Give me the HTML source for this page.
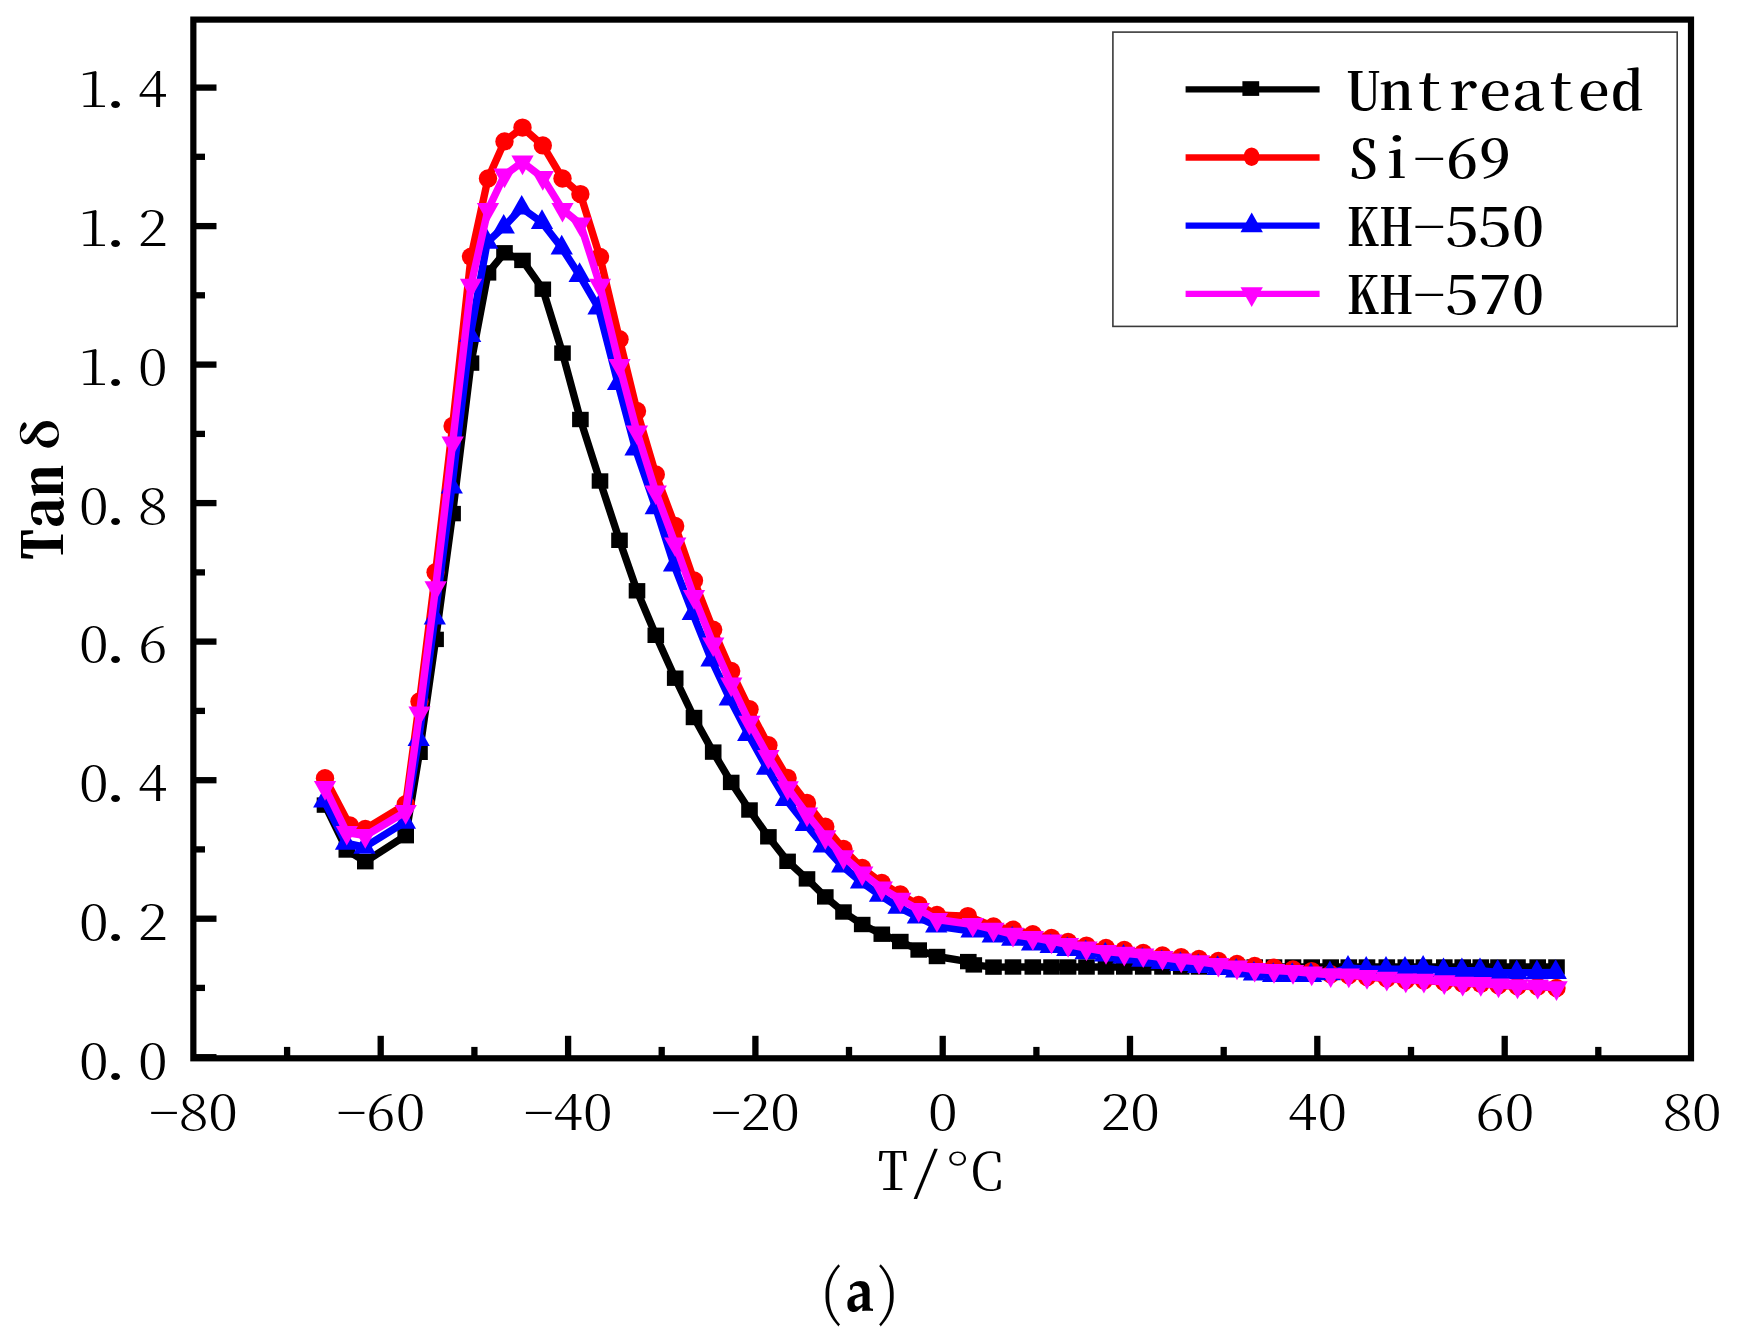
<!DOCTYPE html>
<html lang="en"><head><meta charset="utf-8"><title>Tan delta vs temperature</title>
<style>html,body{margin:0;padding:0;background:#fff}svg{display:block}.m{font-family:"Noto Serif CJK SC","Liberation Serif",serif;font-feature-settings:"hwid";fill:#000}.f{font-family:"Noto Serif CJK SC","Liberation Serif",serif;font-weight:300;font-feature-settings:normal;fill:#000}.t{font-family:"Liberation Serif","Noto Serif CJK SC",serif;font-weight:bold;fill:#000}.p{font-family:"TeX Gyre Pagella","Liberation Serif",serif;fill:#000}</style></head><body>
<svg width="1738" height="1337" viewBox="0 0 1738 1337">
<rect width="1738" height="1337" fill="#fff"/>
<g id="data">
<polyline points="325.0,805.1 346.8,850.0 365.3,861.7 405.7,835.7 419.5,752.3 435.6,639.4 452.6,513.6 471.0,363.1 488.0,272.9 504.5,252.8 522.5,260.4 542.8,289.2 562.5,353.1 580.4,419.5 600.0,481.0 619.5,540.3 637.0,590.8 655.8,635.3 675.2,678.2 694.0,717.5 713.2,752.1 731.2,782.4 749.5,810.0 768.4,836.8 787.6,861.3 807.0,878.9 825.3,896.9 843.5,912.0 862.2,924.5 881.8,934.2 900.3,941.5 918.7,950.0 937.0,956.5 968.3,961.6 973.8,964.9 993.5,967.1 1013.0,967.0 1032.8,967.0 1051.5,967.0 1068.1,967.0 1086.5,967.0 1106.0,967.0 1124.3,967.0 1143.2,967.0 1162.5,967.0 1181.2,967.0 1199.0,967.0 1218.4,967.0 1237.0,967.0 1254.7,967.0 1274.0,967.0 1293.0,967.0 1311.7,967.0 1330.7,967.0 1348.8,967.0 1367.0,967.0 1386.8,967.0 1405.8,967.0 1423.9,967.0 1444.3,967.0 1462.7,967.0 1480.8,967.0 1498.5,967.0 1517.5,967.0 1537.7,967.0 1556.5,967.0" fill="none" stroke="#000" stroke-width="7.4" stroke-linejoin="round" stroke-linecap="butt"/>
<rect x="316.7" y="797.4" width="16.6" height="15.4" fill="#000"/><rect x="338.5" y="842.3" width="16.6" height="15.4" fill="#000"/><rect x="357.0" y="854.0" width="16.6" height="15.4" fill="#000"/><rect x="397.4" y="828.0" width="16.6" height="15.4" fill="#000"/><rect x="411.2" y="744.6" width="16.6" height="15.4" fill="#000"/><rect x="427.3" y="631.7" width="16.6" height="15.4" fill="#000"/><rect x="444.3" y="505.9" width="16.6" height="15.4" fill="#000"/><rect x="462.7" y="355.4" width="16.6" height="15.4" fill="#000"/><rect x="479.7" y="265.2" width="16.6" height="15.4" fill="#000"/><rect x="496.2" y="245.1" width="16.6" height="15.4" fill="#000"/><rect x="514.2" y="252.7" width="16.6" height="15.4" fill="#000"/><rect x="534.5" y="281.5" width="16.6" height="15.4" fill="#000"/><rect x="554.2" y="345.4" width="16.6" height="15.4" fill="#000"/><rect x="572.1" y="411.8" width="16.6" height="15.4" fill="#000"/><rect x="591.7" y="473.3" width="16.6" height="15.4" fill="#000"/><rect x="611.2" y="532.6" width="16.6" height="15.4" fill="#000"/><rect x="628.7" y="583.1" width="16.6" height="15.4" fill="#000"/><rect x="647.5" y="627.6" width="16.6" height="15.4" fill="#000"/><rect x="666.9" y="670.5" width="16.6" height="15.4" fill="#000"/><rect x="685.7" y="709.8" width="16.6" height="15.4" fill="#000"/><rect x="704.9" y="744.4" width="16.6" height="15.4" fill="#000"/><rect x="722.9" y="774.7" width="16.6" height="15.4" fill="#000"/><rect x="741.2" y="802.3" width="16.6" height="15.4" fill="#000"/><rect x="760.1" y="829.1" width="16.6" height="15.4" fill="#000"/><rect x="779.3" y="853.6" width="16.6" height="15.4" fill="#000"/><rect x="798.7" y="871.2" width="16.6" height="15.4" fill="#000"/><rect x="817.0" y="889.2" width="16.6" height="15.4" fill="#000"/><rect x="835.2" y="904.3" width="16.6" height="15.4" fill="#000"/><rect x="853.9" y="916.8" width="16.6" height="15.4" fill="#000"/><rect x="873.5" y="926.5" width="16.6" height="15.4" fill="#000"/><rect x="892.0" y="933.8" width="16.6" height="15.4" fill="#000"/><rect x="910.4" y="942.3" width="16.6" height="15.4" fill="#000"/><rect x="928.7" y="948.8" width="16.6" height="15.4" fill="#000"/><rect x="960.0" y="953.9" width="16.6" height="15.4" fill="#000"/><rect x="965.5" y="957.2" width="16.6" height="15.4" fill="#000"/><rect x="985.2" y="959.4" width="16.6" height="15.4" fill="#000"/><rect x="1004.7" y="959.3" width="16.6" height="15.4" fill="#000"/><rect x="1024.5" y="959.3" width="16.6" height="15.4" fill="#000"/><rect x="1043.2" y="959.3" width="16.6" height="15.4" fill="#000"/><rect x="1059.8" y="959.3" width="16.6" height="15.4" fill="#000"/><rect x="1078.2" y="959.3" width="16.6" height="15.4" fill="#000"/><rect x="1097.7" y="959.3" width="16.6" height="15.4" fill="#000"/><rect x="1116.0" y="959.3" width="16.6" height="15.4" fill="#000"/><rect x="1134.9" y="959.3" width="16.6" height="15.4" fill="#000"/><rect x="1154.2" y="959.3" width="16.6" height="15.4" fill="#000"/><rect x="1172.9" y="959.3" width="16.6" height="15.4" fill="#000"/><rect x="1190.7" y="959.3" width="16.6" height="15.4" fill="#000"/><rect x="1210.1" y="959.3" width="16.6" height="15.4" fill="#000"/><rect x="1228.7" y="959.3" width="16.6" height="15.4" fill="#000"/><rect x="1246.4" y="959.3" width="16.6" height="15.4" fill="#000"/><rect x="1265.7" y="959.3" width="16.6" height="15.4" fill="#000"/><rect x="1284.7" y="959.3" width="16.6" height="15.4" fill="#000"/><rect x="1303.4" y="959.3" width="16.6" height="15.4" fill="#000"/><rect x="1322.4" y="959.3" width="16.6" height="15.4" fill="#000"/><rect x="1340.5" y="959.3" width="16.6" height="15.4" fill="#000"/><rect x="1358.7" y="959.3" width="16.6" height="15.4" fill="#000"/><rect x="1378.5" y="959.3" width="16.6" height="15.4" fill="#000"/><rect x="1397.5" y="959.3" width="16.6" height="15.4" fill="#000"/><rect x="1415.6" y="959.3" width="16.6" height="15.4" fill="#000"/><rect x="1436.0" y="959.3" width="16.6" height="15.4" fill="#000"/><rect x="1454.4" y="959.3" width="16.6" height="15.4" fill="#000"/><rect x="1472.5" y="959.3" width="16.6" height="15.4" fill="#000"/><rect x="1490.2" y="959.3" width="16.6" height="15.4" fill="#000"/><rect x="1509.2" y="959.3" width="16.6" height="15.4" fill="#000"/><rect x="1529.4" y="959.3" width="16.6" height="15.4" fill="#000"/><rect x="1548.2" y="959.3" width="16.6" height="15.4" fill="#000"/>
<polyline points="325.0,778.3 349.8,825.4 365.3,829.0 405.7,804.3 419.5,701.5 435.6,572.3 452.6,426.0 471.0,256.8 488.0,178.5 504.5,141.4 522.5,127.6 542.8,145.4 562.5,178.5 580.4,194.1 600.0,257.0 619.5,339.3 637.0,411.0 655.8,474.5 675.2,526.0 694.0,580.4 713.2,629.7 731.2,671.0 749.5,709.2 768.4,745.3 787.6,777.9 807.0,803.0 825.3,826.8 843.5,849.0 862.2,868.0 881.8,883.0 900.3,894.5 918.7,905.0 937.0,914.9 967.9,916.1 993.5,926.4 1013.0,929.7 1032.8,934.2 1051.5,938.0 1068.1,942.0 1086.5,945.6 1106.0,948.0 1124.3,950.0 1143.2,952.9 1162.5,955.5 1181.2,957.3 1199.0,959.0 1218.4,961.0 1237.0,964.0 1254.7,966.0 1274.0,967.6 1293.0,969.4 1311.7,971.1 1330.7,974.3 1348.8,975.3 1367.0,977.0 1386.8,978.6 1405.8,980.2 1423.9,980.6 1444.3,982.0 1462.7,983.4 1480.8,983.8 1498.5,985.2 1517.5,986.3 1537.7,986.6 1556.5,988.0" fill="none" stroke="#f00" stroke-width="7.4" stroke-linejoin="round" stroke-linecap="butt"/>
<ellipse cx="325.0" cy="778.3" rx="9.2" ry="9.2" fill="#f00"/><ellipse cx="349.8" cy="825.4" rx="9.2" ry="9.2" fill="#f00"/><ellipse cx="365.3" cy="829.0" rx="9.2" ry="9.2" fill="#f00"/><ellipse cx="405.7" cy="804.3" rx="9.2" ry="9.2" fill="#f00"/><ellipse cx="419.5" cy="701.5" rx="9.2" ry="9.2" fill="#f00"/><ellipse cx="435.6" cy="572.3" rx="9.2" ry="9.2" fill="#f00"/><ellipse cx="452.6" cy="426.0" rx="9.2" ry="9.2" fill="#f00"/><ellipse cx="471.0" cy="256.8" rx="9.2" ry="9.2" fill="#f00"/><ellipse cx="488.0" cy="178.5" rx="9.2" ry="9.2" fill="#f00"/><ellipse cx="504.5" cy="141.4" rx="9.2" ry="9.2" fill="#f00"/><ellipse cx="522.5" cy="127.6" rx="9.2" ry="9.2" fill="#f00"/><ellipse cx="542.8" cy="145.4" rx="9.2" ry="9.2" fill="#f00"/><ellipse cx="562.5" cy="178.5" rx="9.2" ry="9.2" fill="#f00"/><ellipse cx="580.4" cy="194.1" rx="9.2" ry="9.2" fill="#f00"/><ellipse cx="600.0" cy="257.0" rx="9.2" ry="9.2" fill="#f00"/><ellipse cx="619.5" cy="339.3" rx="9.2" ry="9.2" fill="#f00"/><ellipse cx="637.0" cy="411.0" rx="9.2" ry="9.2" fill="#f00"/><ellipse cx="655.8" cy="474.5" rx="9.2" ry="9.2" fill="#f00"/><ellipse cx="675.2" cy="526.0" rx="9.2" ry="9.2" fill="#f00"/><ellipse cx="694.0" cy="580.4" rx="9.2" ry="9.2" fill="#f00"/><ellipse cx="713.2" cy="629.7" rx="9.2" ry="9.2" fill="#f00"/><ellipse cx="731.2" cy="671.0" rx="9.2" ry="9.2" fill="#f00"/><ellipse cx="749.5" cy="709.2" rx="9.2" ry="9.2" fill="#f00"/><ellipse cx="768.4" cy="745.3" rx="9.2" ry="9.2" fill="#f00"/><ellipse cx="787.6" cy="777.9" rx="9.2" ry="9.2" fill="#f00"/><ellipse cx="807.0" cy="803.0" rx="9.2" ry="9.2" fill="#f00"/><ellipse cx="825.3" cy="826.8" rx="9.2" ry="9.2" fill="#f00"/><ellipse cx="843.5" cy="849.0" rx="9.2" ry="9.2" fill="#f00"/><ellipse cx="862.2" cy="868.0" rx="9.2" ry="9.2" fill="#f00"/><ellipse cx="881.8" cy="883.0" rx="9.2" ry="9.2" fill="#f00"/><ellipse cx="900.3" cy="894.5" rx="9.2" ry="9.2" fill="#f00"/><ellipse cx="918.7" cy="905.0" rx="9.2" ry="9.2" fill="#f00"/><ellipse cx="937.0" cy="914.9" rx="9.2" ry="9.2" fill="#f00"/><ellipse cx="967.9" cy="916.1" rx="9.2" ry="9.2" fill="#f00"/><ellipse cx="993.5" cy="926.4" rx="9.2" ry="9.2" fill="#f00"/><ellipse cx="1013.0" cy="929.7" rx="9.2" ry="9.2" fill="#f00"/><ellipse cx="1032.8" cy="934.2" rx="9.2" ry="9.2" fill="#f00"/><ellipse cx="1051.5" cy="938.0" rx="9.2" ry="9.2" fill="#f00"/><ellipse cx="1068.1" cy="942.0" rx="9.2" ry="9.2" fill="#f00"/><ellipse cx="1086.5" cy="945.6" rx="9.2" ry="9.2" fill="#f00"/><ellipse cx="1106.0" cy="948.0" rx="9.2" ry="9.2" fill="#f00"/><ellipse cx="1124.3" cy="950.0" rx="9.2" ry="9.2" fill="#f00"/><ellipse cx="1143.2" cy="952.9" rx="9.2" ry="9.2" fill="#f00"/><ellipse cx="1162.5" cy="955.5" rx="9.2" ry="9.2" fill="#f00"/><ellipse cx="1181.2" cy="957.3" rx="9.2" ry="9.2" fill="#f00"/><ellipse cx="1199.0" cy="959.0" rx="9.2" ry="9.2" fill="#f00"/><ellipse cx="1218.4" cy="961.0" rx="9.2" ry="9.2" fill="#f00"/><ellipse cx="1237.0" cy="964.0" rx="9.2" ry="9.2" fill="#f00"/><ellipse cx="1254.7" cy="966.0" rx="9.2" ry="9.2" fill="#f00"/><ellipse cx="1274.0" cy="967.6" rx="9.2" ry="9.2" fill="#f00"/><ellipse cx="1293.0" cy="969.4" rx="9.2" ry="9.2" fill="#f00"/><ellipse cx="1311.7" cy="971.1" rx="9.2" ry="9.2" fill="#f00"/><ellipse cx="1330.7" cy="974.3" rx="9.2" ry="9.2" fill="#f00"/><ellipse cx="1348.8" cy="975.3" rx="9.2" ry="9.2" fill="#f00"/><ellipse cx="1367.0" cy="977.0" rx="9.2" ry="9.2" fill="#f00"/><ellipse cx="1386.8" cy="978.6" rx="9.2" ry="9.2" fill="#f00"/><ellipse cx="1405.8" cy="980.2" rx="9.2" ry="9.2" fill="#f00"/><ellipse cx="1423.9" cy="980.6" rx="9.2" ry="9.2" fill="#f00"/><ellipse cx="1444.3" cy="982.0" rx="9.2" ry="9.2" fill="#f00"/><ellipse cx="1462.7" cy="983.4" rx="9.2" ry="9.2" fill="#f00"/><ellipse cx="1480.8" cy="983.8" rx="9.2" ry="9.2" fill="#f00"/><ellipse cx="1498.5" cy="985.2" rx="9.2" ry="9.2" fill="#f00"/><ellipse cx="1517.5" cy="986.3" rx="9.2" ry="9.2" fill="#f00"/><ellipse cx="1537.7" cy="986.6" rx="9.2" ry="9.2" fill="#f00"/><ellipse cx="1556.5" cy="988.0" rx="9.2" ry="9.2" fill="#f00"/>
<polyline points="324.2,801.0 346.0,843.1 364.5,847.2 404.9,822.1 418.7,739.4 434.8,617.8 451.8,487.0 470.2,335.5 487.2,242.2 503.7,227.0 521.7,208.0 542.0,222.4 561.7,247.8 579.6,275.4 598.5,307.8 618.0,383.5 635.5,449.0 655.7,507.6 674.0,565.0 692.8,613.5 711.5,660.0 729.8,698.8 748.2,734.3 767.0,768.1 786.0,799.5 805.8,824.5 823.6,845.8 842.2,865.9 861.0,881.8 880.0,895.2 898.5,907.2 917.9,917.0 936.2,926.0 971.5,931.0 992.7,935.8 1012.2,939.2 1032.0,944.0 1050.7,946.5 1067.3,949.5 1085.7,952.6 1105.2,954.8 1123.5,957.0 1142.4,960.2 1161.7,962.5 1180.4,964.5 1198.2,966.5 1217.6,968.3 1236.2,971.0 1253.9,974.0 1273.2,975.4 1292.2,975.4 1310.9,975.4 1329.9,973.6 1348.0,968.0 1366.2,969.2 1386.0,969.2 1405.0,969.2 1423.1,968.2 1443.5,970.6 1461.9,970.6 1480.0,970.6 1497.7,972.4 1516.7,972.6 1536.9,972.6 1555.7,972.4" fill="none" stroke="#00f" stroke-width="7.4" stroke-linejoin="round" stroke-linecap="butt"/>
<polygon points="324.2,787.9 313.1,807.6 335.3,807.6" fill="#00f"/><polygon points="346.0,830.0 334.9,849.7 357.1,849.7" fill="#00f"/><polygon points="364.5,834.1 353.4,853.8 375.6,853.8" fill="#00f"/><polygon points="404.9,809.0 393.8,828.7 416.0,828.7" fill="#00f"/><polygon points="418.7,726.3 407.6,746.0 429.8,746.0" fill="#00f"/><polygon points="434.8,604.7 423.7,624.4 445.9,624.4" fill="#00f"/><polygon points="451.8,473.9 440.7,493.6 462.9,493.6" fill="#00f"/><polygon points="470.2,322.4 459.1,342.1 481.3,342.1" fill="#00f"/><polygon points="487.2,229.1 476.1,248.8 498.3,248.8" fill="#00f"/><polygon points="503.7,213.9 492.6,233.6 514.9,233.6" fill="#00f"/><polygon points="521.7,194.9 510.6,214.6 532.9,214.6" fill="#00f"/><polygon points="542.0,209.3 530.9,229.0 553.1,229.0" fill="#00f"/><polygon points="561.7,234.7 550.6,254.4 572.9,254.4" fill="#00f"/><polygon points="579.6,262.3 568.5,282.0 590.8,282.0" fill="#00f"/><polygon points="598.5,294.7 587.4,314.4 609.6,314.4" fill="#00f"/><polygon points="618.0,370.4 606.9,390.1 629.1,390.1" fill="#00f"/><polygon points="635.5,435.9 624.4,455.6 646.6,455.6" fill="#00f"/><polygon points="655.7,494.5 644.6,514.2 666.9,514.2" fill="#00f"/><polygon points="674.0,551.9 662.9,571.6 685.1,571.6" fill="#00f"/><polygon points="692.8,600.4 681.6,620.1 703.9,620.1" fill="#00f"/><polygon points="711.5,646.9 700.4,666.6 722.6,666.6" fill="#00f"/><polygon points="729.8,685.7 718.6,705.4 740.9,705.4" fill="#00f"/><polygon points="748.2,721.2 737.1,740.9 759.4,740.9" fill="#00f"/><polygon points="767.0,755.0 755.9,774.7 778.1,774.7" fill="#00f"/><polygon points="786.0,786.4 774.9,806.1 797.1,806.1" fill="#00f"/><polygon points="805.8,811.4 794.6,831.1 816.9,831.1" fill="#00f"/><polygon points="823.6,832.7 812.5,852.4 834.8,852.4" fill="#00f"/><polygon points="842.2,852.8 831.1,872.5 853.4,872.5" fill="#00f"/><polygon points="861.0,868.7 849.9,888.4 872.1,888.4" fill="#00f"/><polygon points="880.0,882.1 868.9,901.8 891.1,901.8" fill="#00f"/><polygon points="898.5,894.1 887.4,913.8 909.6,913.8" fill="#00f"/><polygon points="917.9,903.9 906.8,923.6 929.1,923.6" fill="#00f"/><polygon points="936.2,912.9 925.1,932.6 947.4,932.6" fill="#00f"/><polygon points="971.5,917.9 960.4,937.6 982.6,937.6" fill="#00f"/><polygon points="992.7,922.7 981.6,942.4 1003.9,942.4" fill="#00f"/><polygon points="1012.2,926.1 1001.1,945.8 1023.4,945.8" fill="#00f"/><polygon points="1032.0,930.9 1020.9,950.6 1043.2,950.6" fill="#00f"/><polygon points="1050.7,933.4 1039.5,953.1 1061.9,953.1" fill="#00f"/><polygon points="1067.3,936.4 1056.1,956.1 1078.5,956.1" fill="#00f"/><polygon points="1085.7,939.5 1074.5,959.2 1096.9,959.2" fill="#00f"/><polygon points="1105.2,941.7 1094.0,961.4 1116.4,961.4" fill="#00f"/><polygon points="1123.5,943.9 1112.3,963.6 1134.7,963.6" fill="#00f"/><polygon points="1142.4,947.1 1131.2,966.8 1153.6,966.8" fill="#00f"/><polygon points="1161.7,949.4 1150.5,969.1 1172.9,969.1" fill="#00f"/><polygon points="1180.4,951.4 1169.2,971.1 1191.6,971.1" fill="#00f"/><polygon points="1198.2,953.4 1187.0,973.1 1209.4,973.1" fill="#00f"/><polygon points="1217.6,955.2 1206.5,974.9 1228.8,974.9" fill="#00f"/><polygon points="1236.2,957.9 1225.0,977.6 1247.4,977.6" fill="#00f"/><polygon points="1253.9,960.9 1242.8,980.6 1265.1,980.6" fill="#00f"/><polygon points="1273.2,962.3 1262.0,982.0 1284.4,982.0" fill="#00f"/><polygon points="1292.2,962.3 1281.0,982.0 1303.4,982.0" fill="#00f"/><polygon points="1310.9,962.3 1299.8,982.0 1322.1,982.0" fill="#00f"/><polygon points="1329.9,960.5 1318.8,980.2 1341.1,980.2" fill="#00f"/><polygon points="1348.0,954.9 1336.8,974.6 1359.2,974.6" fill="#00f"/><polygon points="1366.2,956.1 1355.0,975.8 1377.4,975.8" fill="#00f"/><polygon points="1386.0,956.1 1374.8,975.8 1397.2,975.8" fill="#00f"/><polygon points="1405.0,956.1 1393.8,975.8 1416.2,975.8" fill="#00f"/><polygon points="1423.1,955.1 1412.0,974.8 1434.3,974.8" fill="#00f"/><polygon points="1443.5,957.5 1432.3,977.2 1454.7,977.2" fill="#00f"/><polygon points="1461.9,957.5 1450.8,977.2 1473.1,977.2" fill="#00f"/><polygon points="1480.0,957.5 1468.8,977.2 1491.2,977.2" fill="#00f"/><polygon points="1497.7,959.3 1486.5,979.0 1508.9,979.0" fill="#00f"/><polygon points="1516.7,959.5 1505.5,979.2 1527.9,979.2" fill="#00f"/><polygon points="1536.9,959.5 1525.8,979.2 1548.1,979.2" fill="#00f"/><polygon points="1555.7,959.3 1544.5,979.0 1566.9,979.0" fill="#00f"/>
<polyline points="325.0,787.6 346.8,832.5 365.3,835.7 405.7,811.7 419.5,713.0 435.6,587.8 452.6,443.0 471.0,285.4 488.0,209.6 504.5,175.2 522.5,162.1 542.8,177.7 562.5,209.5 580.4,224.0 600.0,285.4 619.5,365.6 637.0,432.0 655.8,492.0 675.2,544.0 694.0,596.7 713.2,644.0 731.2,684.2 749.5,722.4 768.4,756.6 787.6,787.9 807.0,814.2 825.3,836.8 843.5,856.8 862.2,873.1 881.8,888.1 900.3,899.4 918.7,909.6 937.0,919.5 972.8,924.5 993.5,929.4 1013.0,934.4 1032.8,937.6 1051.5,941.1 1068.1,944.6 1086.5,948.1 1106.0,951.6 1124.3,953.3 1143.2,955.0 1162.5,957.6 1181.2,960.2 1199.0,961.9 1218.4,964.5 1237.0,967.1 1254.7,969.5 1274.0,970.6 1293.0,971.6 1311.7,973.2 1330.7,974.9 1348.8,975.2 1367.0,976.6 1386.8,978.4 1405.8,980.1 1423.9,980.4 1444.3,981.8 1462.7,983.3 1480.8,983.6 1498.5,985.1 1517.5,986.1 1537.7,986.3 1556.5,987.9" fill="none" stroke="#f0f" stroke-width="7.4" stroke-linejoin="round" stroke-linecap="butt"/>
<polygon points="325.0,800.7 313.9,781.0 336.1,781.0" fill="#f0f"/><polygon points="346.8,845.6 335.7,825.9 357.9,825.9" fill="#f0f"/><polygon points="365.3,848.8 354.2,829.1 376.4,829.1" fill="#f0f"/><polygon points="405.7,824.8 394.6,805.1 416.8,805.1" fill="#f0f"/><polygon points="419.5,726.1 408.4,706.4 430.6,706.4" fill="#f0f"/><polygon points="435.6,600.9 424.5,581.2 446.8,581.2" fill="#f0f"/><polygon points="452.6,456.1 441.5,436.4 463.8,436.4" fill="#f0f"/><polygon points="471.0,298.5 459.9,278.8 482.1,278.8" fill="#f0f"/><polygon points="488.0,222.7 476.9,203.0 499.1,203.0" fill="#f0f"/><polygon points="504.5,188.3 493.4,168.6 515.6,168.6" fill="#f0f"/><polygon points="522.5,175.2 511.4,155.5 533.6,155.5" fill="#f0f"/><polygon points="542.8,190.8 531.6,171.1 553.9,171.1" fill="#f0f"/><polygon points="562.5,222.6 551.4,202.9 573.6,202.9" fill="#f0f"/><polygon points="580.4,237.1 569.2,217.4 591.5,217.4" fill="#f0f"/><polygon points="600.0,298.5 588.9,278.8 611.1,278.8" fill="#f0f"/><polygon points="619.5,378.7 608.4,359.0 630.6,359.0" fill="#f0f"/><polygon points="637.0,445.1 625.9,425.4 648.1,425.4" fill="#f0f"/><polygon points="655.8,505.1 644.6,485.4 666.9,485.4" fill="#f0f"/><polygon points="675.2,557.1 664.1,537.4 686.4,537.4" fill="#f0f"/><polygon points="694.0,609.8 682.9,590.1 705.1,590.1" fill="#f0f"/><polygon points="713.2,657.1 702.1,637.4 724.4,637.4" fill="#f0f"/><polygon points="731.2,697.3 720.1,677.6 742.4,677.6" fill="#f0f"/><polygon points="749.5,735.5 738.4,715.8 760.6,715.8" fill="#f0f"/><polygon points="768.4,769.7 757.2,750.0 779.5,750.0" fill="#f0f"/><polygon points="787.6,801.0 776.5,781.3 798.8,781.3" fill="#f0f"/><polygon points="807.0,827.3 795.9,807.6 818.1,807.6" fill="#f0f"/><polygon points="825.3,849.9 814.1,830.2 836.4,830.2" fill="#f0f"/><polygon points="843.5,869.9 832.4,850.2 854.6,850.2" fill="#f0f"/><polygon points="862.2,886.2 851.1,866.5 873.4,866.5" fill="#f0f"/><polygon points="881.8,901.2 870.6,881.5 892.9,881.5" fill="#f0f"/><polygon points="900.3,912.5 889.1,892.8 911.4,892.8" fill="#f0f"/><polygon points="918.7,922.7 907.6,903.0 929.9,903.0" fill="#f0f"/><polygon points="937.0,932.6 925.9,912.9 948.1,912.9" fill="#f0f"/><polygon points="972.8,937.6 961.6,917.9 983.9,917.9" fill="#f0f"/><polygon points="993.5,942.5 982.4,922.8 1004.6,922.8" fill="#f0f"/><polygon points="1013.0,947.5 1001.9,927.8 1024.2,927.8" fill="#f0f"/><polygon points="1032.8,950.7 1021.6,931.0 1044.0,931.0" fill="#f0f"/><polygon points="1051.5,954.2 1040.3,934.5 1062.7,934.5" fill="#f0f"/><polygon points="1068.1,957.7 1056.9,938.0 1079.2,938.0" fill="#f0f"/><polygon points="1086.5,961.2 1075.3,941.5 1097.7,941.5" fill="#f0f"/><polygon points="1106.0,964.7 1094.8,945.0 1117.2,945.0" fill="#f0f"/><polygon points="1124.3,966.4 1113.1,946.7 1135.5,946.7" fill="#f0f"/><polygon points="1143.2,968.1 1132.0,948.4 1154.4,948.4" fill="#f0f"/><polygon points="1162.5,970.7 1151.3,951.0 1173.7,951.0" fill="#f0f"/><polygon points="1181.2,973.3 1170.0,953.6 1192.4,953.6" fill="#f0f"/><polygon points="1199.0,975.0 1187.8,955.3 1210.2,955.3" fill="#f0f"/><polygon points="1218.4,977.6 1207.2,957.9 1229.6,957.9" fill="#f0f"/><polygon points="1237.0,980.2 1225.8,960.5 1248.2,960.5" fill="#f0f"/><polygon points="1254.7,982.6 1243.5,962.9 1265.9,962.9" fill="#f0f"/><polygon points="1274.0,983.7 1262.8,964.0 1285.2,964.0" fill="#f0f"/><polygon points="1293.0,984.7 1281.8,965.0 1304.2,965.0" fill="#f0f"/><polygon points="1311.7,986.3 1300.5,966.6 1322.9,966.6" fill="#f0f"/><polygon points="1330.7,988.0 1319.5,968.3 1341.9,968.3" fill="#f0f"/><polygon points="1348.8,988.3 1337.6,968.6 1360.0,968.6" fill="#f0f"/><polygon points="1367.0,989.7 1355.8,970.0 1378.2,970.0" fill="#f0f"/><polygon points="1386.8,991.5 1375.6,971.8 1398.0,971.8" fill="#f0f"/><polygon points="1405.8,993.2 1394.6,973.5 1417.0,973.5" fill="#f0f"/><polygon points="1423.9,993.5 1412.8,973.8 1435.1,973.8" fill="#f0f"/><polygon points="1444.3,994.9 1433.1,975.2 1455.5,975.2" fill="#f0f"/><polygon points="1462.7,996.4 1451.5,976.7 1473.9,976.7" fill="#f0f"/><polygon points="1480.8,996.7 1469.6,977.0 1492.0,977.0" fill="#f0f"/><polygon points="1498.5,998.2 1487.3,978.5 1509.7,978.5" fill="#f0f"/><polygon points="1517.5,999.2 1506.3,979.5 1528.7,979.5" fill="#f0f"/><polygon points="1537.7,999.4 1526.5,979.7 1548.9,979.7" fill="#f0f"/><polygon points="1556.5,1001.0 1545.3,981.3 1567.7,981.3" fill="#f0f"/>
</g>
<g id="axes" stroke="#000" stroke-width="6.2" fill="none" stroke-linecap="butt">
<rect x="193.35" y="19.60" width="1497.65" height="1038.70"/>
<line x1="193.3" y1="1057.2" x2="216.5" y2="1057.2" stroke-width="6.3"/>
<line x1="193.3" y1="987.9" x2="205.0" y2="987.9" stroke-width="6.3"/>
<line x1="193.3" y1="918.7" x2="216.5" y2="918.7" stroke-width="6.3"/>
<line x1="193.3" y1="849.4" x2="205.0" y2="849.4" stroke-width="6.3"/>
<line x1="193.3" y1="780.2" x2="216.5" y2="780.2" stroke-width="6.3"/>
<line x1="193.3" y1="710.9" x2="205.0" y2="710.9" stroke-width="6.3"/>
<line x1="193.3" y1="641.6" x2="216.5" y2="641.6" stroke-width="6.3"/>
<line x1="193.3" y1="572.4" x2="205.0" y2="572.4" stroke-width="6.3"/>
<line x1="193.3" y1="503.1" x2="216.5" y2="503.1" stroke-width="6.3"/>
<line x1="193.3" y1="433.9" x2="205.0" y2="433.9" stroke-width="6.3"/>
<line x1="193.3" y1="364.6" x2="216.5" y2="364.6" stroke-width="6.3"/>
<line x1="193.3" y1="295.3" x2="205.0" y2="295.3" stroke-width="6.3"/>
<line x1="193.3" y1="226.1" x2="216.5" y2="226.1" stroke-width="6.3"/>
<line x1="193.3" y1="156.8" x2="205.0" y2="156.8" stroke-width="6.3"/>
<line x1="193.3" y1="87.6" x2="216.5" y2="87.6" stroke-width="6.3"/>
<line x1="287.1" y1="1058.3" x2="287.1" y2="1046.9" stroke-width="6.3"/>
<line x1="380.7" y1="1058.3" x2="380.7" y2="1035.8" stroke-width="6.3"/>
<line x1="474.4" y1="1058.3" x2="474.4" y2="1046.9" stroke-width="6.3"/>
<line x1="568.1" y1="1058.3" x2="568.1" y2="1035.8" stroke-width="6.3"/>
<line x1="661.7" y1="1058.3" x2="661.7" y2="1046.9" stroke-width="6.3"/>
<line x1="755.4" y1="1058.3" x2="755.4" y2="1035.8" stroke-width="6.3"/>
<line x1="849.0" y1="1058.3" x2="849.0" y2="1046.9" stroke-width="6.3"/>
<line x1="942.7" y1="1058.3" x2="942.7" y2="1035.8" stroke-width="6.3"/>
<line x1="1036.4" y1="1058.3" x2="1036.4" y2="1046.9" stroke-width="6.3"/>
<line x1="1130.0" y1="1058.3" x2="1130.0" y2="1035.8" stroke-width="6.3"/>
<line x1="1223.7" y1="1058.3" x2="1223.7" y2="1046.9" stroke-width="6.3"/>
<line x1="1317.3" y1="1058.3" x2="1317.3" y2="1035.8" stroke-width="6.3"/>
<line x1="1411.0" y1="1058.3" x2="1411.0" y2="1046.9" stroke-width="6.3"/>
<line x1="1504.7" y1="1058.3" x2="1504.7" y2="1035.8" stroke-width="6.3"/>
<line x1="1598.3" y1="1058.3" x2="1598.3" y2="1046.9" stroke-width="6.3"/>
</g>
<text class="m" font-weight="300" font-size="47.4" transform="translate(79.10,1078.50) scale(1.270,1)" y="0"><tspan x="-0.24">0</tspan><tspan x="11.56" font-size="68.7">.</tspan><tspan x="46.22">0</tspan></text>
<text class="m" font-weight="300" font-size="47.4" transform="translate(79.10,939.78) scale(1.270,1)" y="0"><tspan x="-0.24">0</tspan><tspan x="11.56" font-size="68.7">.</tspan><tspan x="46.22">2</tspan></text>
<text class="m" font-weight="300" font-size="47.4" transform="translate(79.10,801.06) scale(1.270,1)" y="0"><tspan x="-0.24">0</tspan><tspan x="11.56" font-size="68.7">.</tspan><tspan x="46.22">4</tspan></text>
<text class="m" font-weight="300" font-size="47.4" transform="translate(79.10,662.34) scale(1.270,1)" y="0"><tspan x="-0.24">0</tspan><tspan x="11.56" font-size="68.7">.</tspan><tspan x="46.22">6</tspan></text>
<text class="m" font-weight="300" font-size="47.4" transform="translate(79.10,523.62) scale(1.270,1)" y="0"><tspan x="-0.24">0</tspan><tspan x="11.56" font-size="68.7">.</tspan><tspan x="46.22">8</tspan></text>
<text class="m" font-weight="300" font-size="47.4" transform="translate(79.10,384.90) scale(1.270,1)" y="0"><tspan x="-0.24">1</tspan><tspan x="11.56" font-size="68.7">.</tspan><tspan x="46.22">0</tspan></text>
<text class="m" font-weight="300" font-size="47.4" transform="translate(79.10,246.18) scale(1.270,1)" y="0"><tspan x="-0.24">1</tspan><tspan x="11.56" font-size="68.7">.</tspan><tspan x="46.22">2</tspan></text>
<text class="m" font-weight="300" font-size="47.4" transform="translate(79.10,107.46) scale(1.270,1)" y="0"><tspan x="-0.24">1</tspan><tspan x="11.56" font-size="68.7">.</tspan><tspan x="46.22">4</tspan></text>
<text class="m" font-weight="300" font-size="47.4" transform="translate(149.37,1130.40) scale(1.270,1)" x="-0.24 22.99 46.22" y="0">-80</text>
<text class="m" font-weight="300" font-size="47.4" transform="translate(336.69,1130.40) scale(1.270,1)" x="-0.24 22.99 46.22" y="0">-60</text>
<text class="m" font-weight="300" font-size="47.4" transform="translate(524.01,1130.40) scale(1.270,1)" x="-0.24 22.99 46.22" y="0">-40</text>
<text class="m" font-weight="300" font-size="47.4" transform="translate(711.33,1130.40) scale(1.270,1)" x="-0.24 22.99 46.22" y="0">-20</text>
<text class="m" font-weight="300" font-size="47.4" transform="translate(928.15,1130.40) scale(1.270,1)" x="-0.24" y="0">0</text>
<text class="m" font-weight="300" font-size="47.4" transform="translate(1100.72,1130.40) scale(1.270,1)" x="-0.24 22.99" y="0">20</text>
<text class="m" font-weight="300" font-size="47.4" transform="translate(1288.04,1130.40) scale(1.270,1)" x="-0.24 22.99" y="0">40</text>
<text class="m" font-weight="300" font-size="47.4" transform="translate(1475.36,1130.40) scale(1.270,1)" x="-0.24 22.99" y="0">60</text>
<text class="m" font-weight="300" font-size="47.4" transform="translate(1662.68,1130.40) scale(1.270,1)" x="-0.24 22.99" y="0">80</text>
<text class="m" font-weight="300" font-size="52.1" transform="translate(876.40,1189.60) scale(1.250,1)" y="0"><tspan x="0.13 26.45">T/</tspan><tspan class="f" font-size="50" x="54.56">℃</tspan></text>
<text class="m" font-weight="700" font-size="56.2" transform="translate(62.6,560.2) rotate(-90) scale(1.110,1)" y="0"><tspan x="0.23 28.79 57.35 85.90">Tan </tspan><tspan class="f" style="font-weight:700" font-size="47" x="99.64" dy="-4.5">δ</tspan></text>
<text class="p" font-size="63" transform="translate(818.3,1311) scale(0.93,1)" x="0" y="0"><tspan>(</tspan><tspan font-weight="bold">a</tspan><tspan>)</tspan></text>
<g id="legend">
<rect x="1112.9" y="32.1" width="564.3" height="294.3" fill="#fff" stroke="#3a3a3a" stroke-width="1.6"/>
<line x1="1185.6" y1="89.3" x2="1319.6" y2="89.3" stroke="#000" stroke-width="6.3"/>
<line x1="1185.6" y1="157.5" x2="1319.6" y2="157.5" stroke="#f00" stroke-width="6.3"/>
<line x1="1185.6" y1="225.6" x2="1319.6" y2="225.6" stroke="#00f" stroke-width="6.3"/>
<line x1="1185.6" y1="293.8" x2="1319.6" y2="293.8" stroke="#f0f" stroke-width="6.3"/>
<rect x="1242.4" y="81.2" width="16.8" height="14.7" fill="#000"/>
<ellipse cx="1251.6" cy="156.7" rx="7.9" ry="9.3" fill="#f00"/>
<polygon points="1251.7,212.6 1240.5,232.3 1262.9,232.3" fill="#00f"/>
<polygon points="1251.7,306.9 1240.5,287.2 1262.9,287.2" fill="#f0f"/>
<text class="m" font-weight="500" font-size="52.1" transform="translate(1347.00,109.60) scale(1.250,1)" x="0.13 26.45 52.77 79.09 105.41 131.73 158.05 184.37 210.69" y="0">Untreated</text>
<text class="m" font-weight="500" font-size="52.1" transform="translate(1347.00,177.80) scale(1.250,1)" y="0"><tspan x="0.13 26.45">Si</tspan><tspan x="52.77" font-weight="200">-</tspan><tspan x="79.09 105.41">69</tspan></text>
<text class="m" font-weight="500" font-size="52.1" transform="translate(1347.00,245.90) scale(1.250,1)" y="0"><tspan x="0.13 26.45">KH</tspan><tspan x="52.77" font-weight="200">-</tspan><tspan x="79.09 105.41 131.73">550</tspan></text>
<text class="m" font-weight="500" font-size="52.1" transform="translate(1347.00,314.10) scale(1.250,1)" y="0"><tspan x="0.13 26.45">KH</tspan><tspan x="52.77" font-weight="200">-</tspan><tspan x="79.09 105.41 131.73">570</tspan></text>
</g>
</svg></body></html>
